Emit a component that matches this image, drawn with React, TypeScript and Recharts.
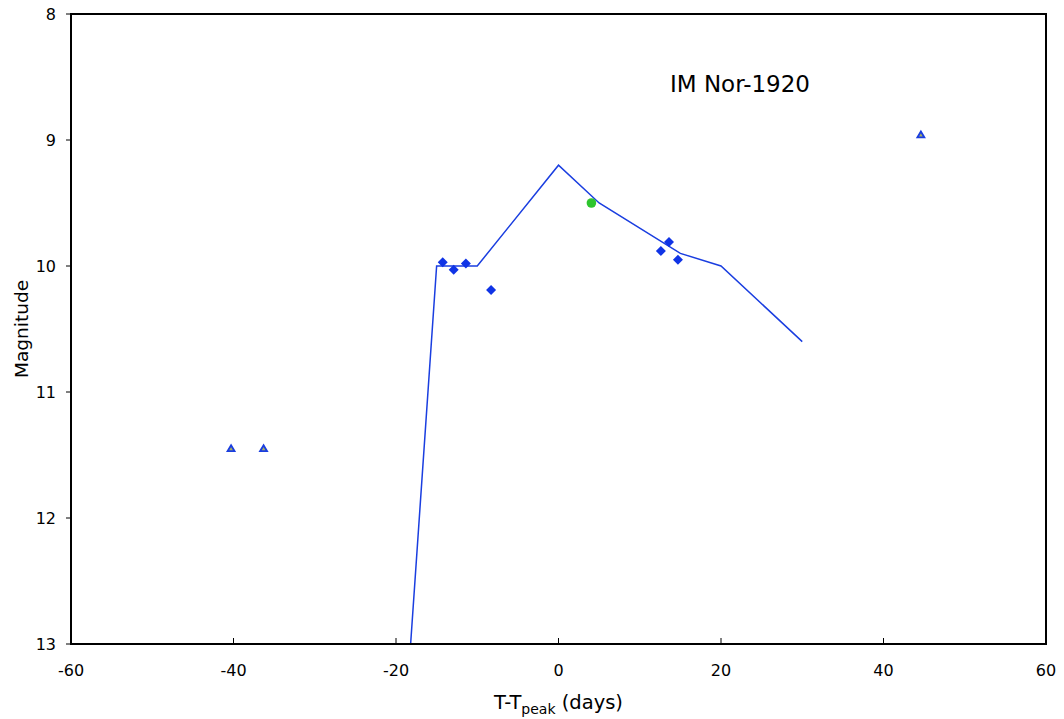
import React from 'react';
import { ComposedChart, XAxis, YAxis, Line, Scatter, Label, ReferenceArea } from 'recharts';

const xTicks = [-60, -40, -20, 0, 20, 40, 60];
const yTicks = [8, 9, 10, 11, 12, 13];

const modelCurve = [
  { x: -18.2, y: 13 },
  { x: -15, y: 10 },
  { x: -10, y: 10 },
  { x: 0, y: 9.2 },
  { x: 5, y: 9.5 },
  { x: 15, y: 9.9 },
  { x: 20, y: 10 },
  { x: 30, y: 10.6 },
];

const visualObs = [
  { x: -14.25, y: 9.97 },
  { x: -12.9, y: 10.03 },
  { x: -11.4, y: 9.98 },
  { x: -8.3, y: 10.19 },
  { x: 12.6, y: 9.88 },
  { x: 13.6, y: 9.81 },
  { x: 14.7, y: 9.95 },
];

const greenObs = [{ x: 4.05, y: 9.5 }];

const limitObs = [
  { x: -40.3, y: 11.45 },
  { x: -36.3, y: 11.45 },
  { x: 44.6, y: 8.96 },
];

const FONT = '"DejaVu Sans", Verdana, sans-serif';
const BLUE = '#1a3ee0';

const Diamond = (p: any) => {
  const { cx, cy } = p;
  const r = 5;
  return <polygon points={`${cx},${cy - r} ${cx + r},${cy} ${cx},${cy + r} ${cx - r},${cy}`} fill="#1034e6" />;
};

const Dot = (p: any) => <circle cx={p.cx} cy={p.cy} r={4.8} fill="#2ec52e" />;

const Tri = (p: any) => {
  const { cx, cy } = p;
  return (
    <polygon
      points={`${cx},${cy - 3.5} ${cx + 3.5},${cy + 2.5} ${cx - 3.5},${cy + 2.5}`}
      fill="#a8b060"
      stroke="#1a3ee0"
      strokeWidth={1.8}
    />
  );
};

const XTick = (p: any) => {
  const { x, y, payload } = p;
  return (
    <g>
      <line x1={x} x2={x} y1={y - 1} y2={y - 6} stroke="#000" strokeWidth={1} />
      <text x={x} y={y + 32} textAnchor="middle" fontFamily={FONT} fontSize={16} fill="#000">
        {payload.value}
      </text>
    </g>
  );
};

const XLabel = (p: any) => {
  const vb = p.viewBox || { x: 71, y: 644, width: 975 };
  return (
    <text x={vb.x + vb.width / 2} y={709} textAnchor="middle" fontFamily={FONT} fontSize={19.5} fill="#000">
      <tspan>T-T</tspan>
      <tspan fontSize={14} dy={5}>peak</tspan>
      <tspan dy={-5}> (days)</tspan>
    </text>
  );
};

const YLabel = () => (
  <text
    x={21}
    y={329}
    textAnchor="middle"
    fontFamily={FONT}
    fontSize={18.5}
    fill="#000"
    transform="rotate(-90 21 329)"
    dominantBaseline="central"
  >
    Magnitude
  </text>
);

export default function App() {
  return (
    <div style={{ position: 'absolute', left: 0, top: 0, background: '#fff' }}>
      <ComposedChart width={1064} height={719} margin={{ top: 14, right: 18, left: 0, bottom: 0 }}>
        <XAxis
          dataKey="x"
          type="number"
          domain={[-60, 60]}
          ticks={xTicks}
          height={75}
          tickSize={0}
          tickMargin={0}
          tickLine={false}
          tick={<XTick />}
          axisLine={{ stroke: '#000', strokeWidth: 2 }}
          allowDataOverflow
        >
          <Label content={<XLabel />} />
        </XAxis>
        <YAxis
          dataKey="y"
          type="number"
          domain={[8, 13]}
          ticks={yTicks}
          reversed
          width={71}
          tickSize={5}
          tickMargin={10}
          tickLine={{ stroke: '#000', strokeWidth: 1 }}
          tick={{ fontFamily: FONT, fontSize: 16, fill: '#000' }}
          axisLine={{ stroke: '#000', strokeWidth: 2 }}
          allowDataOverflow
        >
          <Label content={<YLabel />} />
        </YAxis>
        <ReferenceArea
          x1={-60}
          x2={60}
          y1={8}
          y2={13}
          fill="none"
          fillOpacity={0}
          stroke="#000"
          strokeWidth={2}
          strokeOpacity={1}
          ifOverflow="visible"
        />
        <Line
          data={modelCurve}
          dataKey="y"
          type="linear"
          stroke={BLUE}
          strokeWidth={1.5}
          dot={false}
          activeDot={false}
          isAnimationActive={false}
        />
        <Scatter data={visualObs} dataKey="y" shape={<Diamond />} isAnimationActive={false} />
        <Scatter data={greenObs} dataKey="y" shape={<Dot />} isAnimationActive={false} />
        <Scatter data={limitObs} dataKey="y" shape={<Tri />} isAnimationActive={false} />
      </ComposedChart>
      <div
        style={{
          position: 'absolute',
          left: 620,
          width: 240,
          top: 71,
          textAlign: 'center',
          fontFamily: FONT,
          fontSize: 23,
          lineHeight: '26px',
          color: '#000',
        }}
      >
        IM Nor-1920
      </div>
    </div>
  );
}
